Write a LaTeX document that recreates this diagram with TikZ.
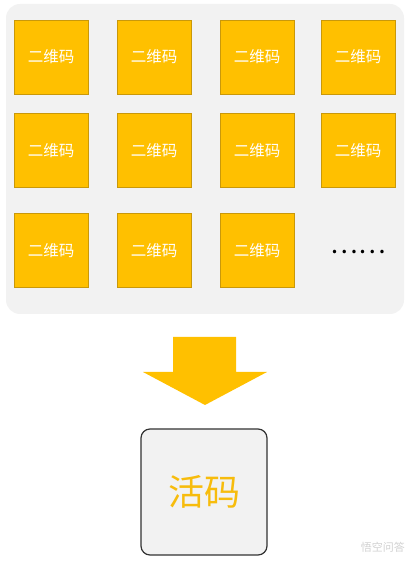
\documentclass[tikz,border=0pt]{standalone}
\usepackage{fontspec}
\newfontfamily\cjk{Noto Sans CJK SC}
\definecolor{qrfill}{HTML}{FFC000}
\definecolor{qrline}{HTML}{C9980A}
\definecolor{panel}{HTML}{F2F2F2}
\definecolor{huoma}{HTML}{F7BC0C}
\begin{document}
\begin{tikzpicture}[x=1pt,y=1pt,
  qr/.style={draw=qrline, line width=0.8pt, fill=qrfill, minimum width=74pt, minimum height=74pt, inner sep=0pt,
     text=white, font=\cjk\fontsize{15.5}{18}\selectfont},
  panelbox/.style={fill=panel, rounded corners=14pt},
  livebox/.style={draw=black!80, line width=1.2pt, fill=panel, rounded corners=9pt, minimum width=126pt, minimum height=126pt, inner sep=0pt,
     text=huoma, font=\cjk\fontsize{36}{40}\selectfont},
  bigarrow/.style={fill=qrfill}]
\useasboundingbox (0,0) rectangle (412,562);
% panel
\node[panelbox, minimum width=398pt, minimum height=310pt, inner sep=0pt] (panel) at (205,403) {};
% QR squares
\node[qr] (q11) at (51,505) {二维码};
\node[qr] (q12) at (154,505) {二维码};
\node[qr] (q13) at (257,505) {二维码};
\node[qr] (q14) at (358,505) {二维码};
\node[qr] (q21) at (51,411.5) {二维码};
\node[qr] (q22) at (154,411.5) {二维码};
\node[qr] (q23) at (257,411.5) {二维码};
\node[qr] (q24) at (358,411.5) {二维码};
\node[qr] (q31) at (51,311.5) {二维码};
\node[qr] (q32) at (154,311.5) {二维码};
\node[qr] (q33) at (257,311.5) {二维码};
% dots
\node[font=\cjk\fontsize{26}{28}\selectfont, inner sep=0pt, anchor=center] (dots) at (358,310) {……};
% big arrow
\fill[bigarrow] (173,225) -- (236,225) -- (236,190) -- (267,190) -- (205,157) -- (143,190) -- (173,190) -- cycle;
% result box
\node[livebox] (live) at (204,70) {活码};
% watermark
\node[font=\cjk\fontsize{11}{13}\selectfont, text=black!18, anchor=east, inner sep=0pt] (wm) at (405,15) {悟空问答};
\end{tikzpicture}
\end{document}
